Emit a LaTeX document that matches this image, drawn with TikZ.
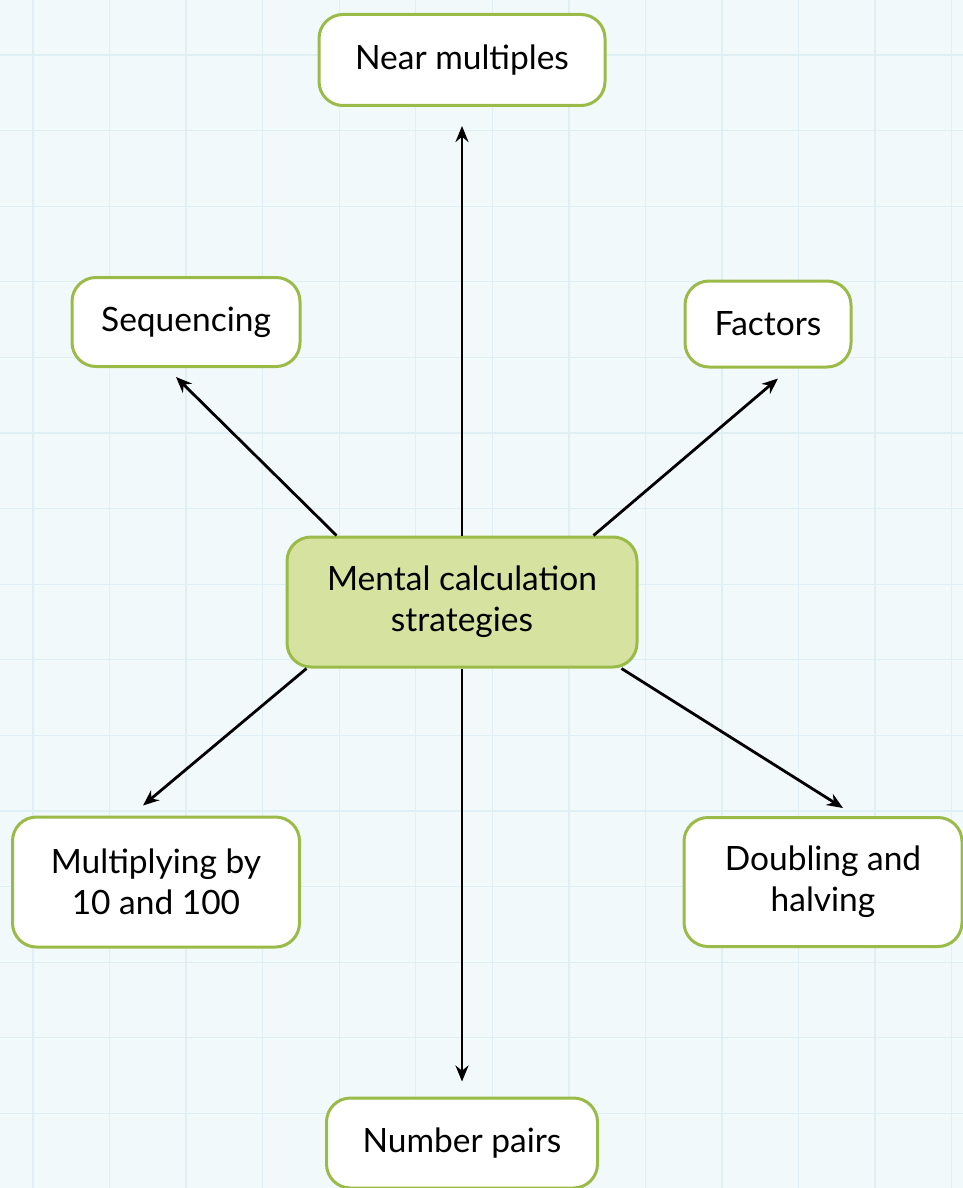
\documentclass[tikz,border=0pt]{standalone}
\usepackage{fontspec}
\setmainfont{Lato}
\usetikzlibrary{arrows.meta}

\definecolor{paper}{RGB}{242,249,251}
\definecolor{gridblue}{RGB}{223,239,244}
\definecolor{leafgreen}{RGB}{155,187,72}
\definecolor{hubfill}{RGB}{213,226,160}

\tikzset{
  leaf/.style={draw=leafgreen, line width=3pt, rounded corners=24pt, fill=white,
    align=center, inner sep=0pt, font=\fontsize{33.5}{41}\selectfont},
  hub/.style={leaf, fill=hubfill},
  link/.style={line width=2.8pt, -{Stealth[length=16pt,width=13pt]}}
}

\begin{document}
\begin{tikzpicture}[x=1pt, y=-1pt]
  \useasboundingbox (0,0) rectangle (963,1188);
  \clip (0,0) rectangle (963,1188);
  % squared paper
  \fill[paper] (0,0) rectangle (963,1188);
  \foreach \i in {0,...,12}
    \draw[gridblue, line width=1.3pt] (33+76.55*\i,0) -- (33+76.55*\i,1188);
  \foreach \j in {0,...,15}
    \draw[gridblue, line width=1.3pt] (0,55+75.6*\j) -- (963,55+75.6*\j);

  \node[hub, minimum width=350pt, minimum height=130pt] (hub) at (462,602) {Mental calculation\\strategies};
  \node[leaf, minimum width=286pt, minimum height=91pt] (near) at (462,60) {Near multiples};
  \node[leaf, minimum width=228pt, minimum height=89pt] (seq) at (186,322) {Sequencing};
  \node[leaf, minimum width=166pt, minimum height=86pt] (fact) at (768,324) {Factors};
  \node[leaf, minimum width=287pt, minimum height=130pt] (mult) at (156,882) {Multiplying by\\10 and 100};
  \node[leaf, minimum width=278pt, minimum height=129pt] (dbl) at (823,882) {Doubling and\\halving};
  \node[leaf, minimum width=271pt, minimum height=90pt] (pairs) at (462,1143) {Number pairs};

  \draw[link, shorten >=19pt] (hub.north) -- (near.south);
  \draw[link] ([xshift=51pt]hub.north west) -- ([xshift=-10pt,yshift=-9pt]seq.south);
  \draw[link] ([xshift=-45pt]hub.north east) -- ([xshift=10pt,yshift=-10pt]fact.south);
  \draw[link] ([xshift=21pt]hub.south west) -- ([xshift=-13pt,yshift=10pt]mult.north);
  \draw[link] ([xshift=-17pt]hub.south east) -- ([xshift=20pt,yshift=8pt]dbl.north);
  \draw[link, shorten >=15pt] (hub.south) -- (pairs.north);
\end{tikzpicture}
\end{document}
